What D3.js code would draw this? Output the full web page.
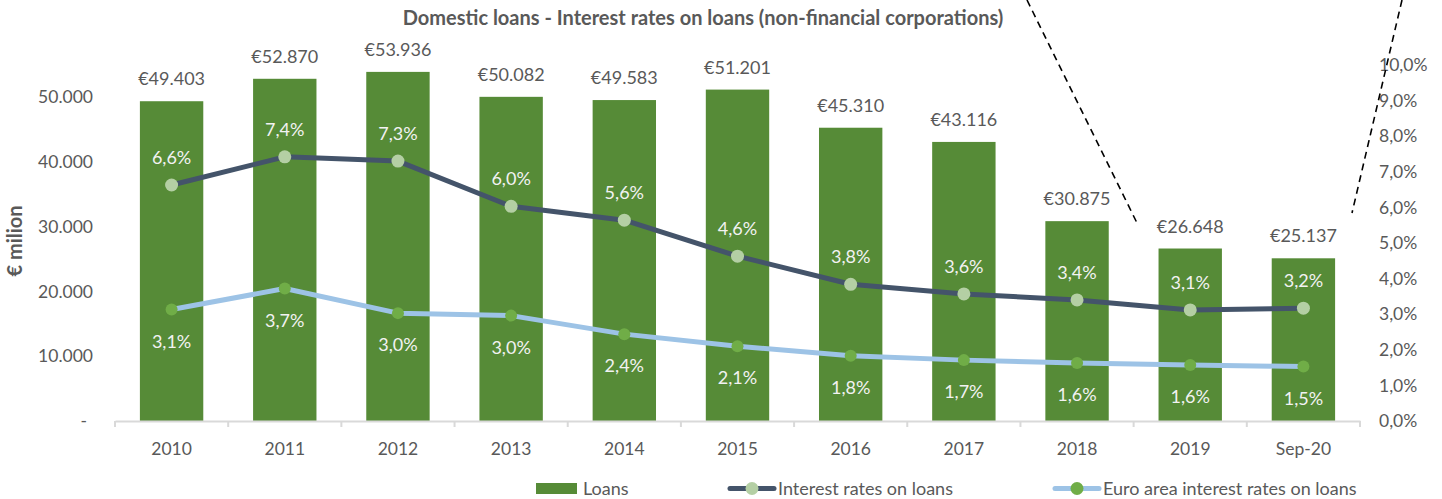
<!DOCTYPE html>
<html lang="en">
  <head>
    <meta charset="utf-8"/>
    <style>
      body {
        margin: 0;
        background: #fff;
        font-family: Lato, "Open Sans", sans-serif;
      }
      .tick text {
        fill: #595959;
        font-size: 17.5px;
        font-family: Lato, sans-serif;
      }
      .lbl {
        font-size: 18px;
      }
    </style>
    <script src="https://cdn.jsdelivr.net/npm/d3@7"></script>
  </head>
  <body>
    <script type="text/javascript">
      // chart data
      var categories = ["2010", "2011", "2012", "2013", "2014", "2015", "2016", "2017", "2018", "2019", "Sep-20"];
      var loans = [49403, 52870, 53936, 50082, 49583, 51201, 45310, 43116, 30875, 26648, 25137];
      var ratesDomestic = [6.63, 7.42, 7.30, 6.03, 5.64, 4.63, 3.84, 3.57, 3.40, 3.12, 3.17];
      var ratesEuro = [3.13, 3.72, 3.03, 2.96, 2.44, 2.10, 1.83, 1.71, 1.63, 1.57, 1.53];
      var leftTicks = [0, 10000, 20000, 30000, 40000, 50000];
      var rightTicks = [0, 1, 2, 3, 4, 5, 6, 7, 8, 9, 10];
      var seriesNames = ["Loans", "Interest rates on loans", "Euro area interest rates on loans"];

      var w = 1442;
      var h = 499;
      var green = "#568B37";
      var navy = "#44546A";
      var lightBlue = "#9DC3E6";
      var grey = "#595959";

      var pt = d3.formatLocale({decimal: ",", thousands: ".", grouping: [3], currency: ["€", ""]});
      var fmtK = pt.format(",.0f");
      var fmtP = pt.format(".1f");

      var svg = d3.select("body")
                  .append("svg")
                  .attr("width", w)
                  .attr("height", h);

      // scales
      var x = d3.scaleBand()
                .domain(categories)
                .range([115, 1360])
                .paddingInner(0.44)
                .paddingOuter(0.22);
      var yL = d3.scaleLinear().domain([0, 55000]).range([421, 65]);
      var yR = d3.scaleLinear().domain([0, 10]).range([421, 65]);
      var cx = function(i) { return x(categories[i]) + x.bandwidth() / 2; };

      // title
      svg.append("text")
         .attr("x", 703)
         .attr("y", 25)
         .attr("text-anchor", "middle")
         .attr("font-size", "20px")
         .attr("font-weight", "bold")
         .attr("fill", grey)
         .text("Domestic loans - Interest rates on loans (non-financial corporations)");

      // left axis
      var gl = svg.append("g")
                  .attr("transform", "translate(93,0)")
                  .call(d3.axisLeft(yL).tickValues(leftTicks).tickSize(0).tickPadding(0)
                          .tickFormat(function(d) { return d === 0 ? "-" : fmtK(d); }));
      gl.select(".domain").remove();
      gl.selectAll(".tick text").filter(function(d) { return d === 0; }).attr("dx", "-6");

      // right axis
      var gr = svg.append("g")
                  .attr("transform", "translate(1379,0)")
                  .call(d3.axisRight(yR).tickValues(rightTicks).tickSize(0).tickPadding(0)
                          .tickFormat(function(d) { return fmtP(d) + "%"; }));
      gr.select(".domain").remove();

      // y label
      svg.append("text")
         .attr("transform", "translate(22,241) rotate(-90)")
         .attr("text-anchor", "middle")
         .attr("font-size", "20px")
         .attr("font-weight", "bold")
         .attr("fill", grey)
         .text("€ milion");

      // bars
      svg.selectAll(".bar")
         .data(loans)
         .enter()
         .append("rect")
         .attr("class", "bar")
         .attr("x", function(d, i) { return x(categories[i]); })
         .attr("y", function(d) { return yL(d); })
         .attr("width", x.bandwidth())
         .attr("height", function(d) { return yL(0) - yL(d); })
         .attr("fill", green);

      svg.selectAll(".barlbl")
         .data(loans)
         .enter()
         .append("text")
         .attr("class", "lbl")
         .attr("x", function(d, i) { return cx(i); })
         .attr("y", function(d) { return yL(d) - 16; })
         .attr("text-anchor", "middle")
         .attr("fill", grey)
         .text(function(d) { return "€" + fmtK(d); });

      // x axis
      var gx = svg.append("g")
                  .attr("transform", "translate(0,421)")
                  .call(d3.axisBottom(x).tickSize(0).tickPadding(22));
      gx.select(".domain").attr("stroke", "#D9D9D9").attr("stroke-width", 2);
      var edges = categories.map(function(c) { return x(c) - (x.step() - x.bandwidth()) / 2; });
      edges.push(x.range()[1]);
      gx.selectAll(".edge")
        .data(edges)
        .enter()
        .append("line")
        .attr("x1", function(d) { return d; })
        .attr("x2", function(d) { return d; })
        .attr("y1", 0)
        .attr("y2", 6)
        .attr("stroke", "#D9D9D9")
        .attr("stroke-width", 2);

      // lines
      var line = d3.line()
                   .x(function(d, i) { return cx(i); })
                   .y(function(d) { return yR(d); });

      svg.append("path")
         .datum(ratesEuro)
         .attr("d", line)
         .attr("fill", "none")
         .attr("stroke", lightBlue)
         .attr("stroke-width", 5)
         .attr("stroke-linejoin", "round");
      svg.append("path")
         .datum(ratesDomestic)
         .attr("d", line)
         .attr("fill", "none")
         .attr("stroke", navy)
         .attr("stroke-width", 5)
         .attr("stroke-linejoin", "round");

      svg.selectAll(".mEuro")
         .data(ratesEuro)
         .enter()
         .append("circle")
         .attr("cx", function(d, i) { return cx(i); })
         .attr("cy", function(d) { return yR(d); })
         .attr("r", 6)
         .attr("fill", "#70AD47");
      svg.selectAll(".mDom")
         .data(ratesDomestic)
         .enter()
         .append("circle")
         .attr("cx", function(d, i) { return cx(i); })
         .attr("cy", function(d) { return yR(d); })
         .attr("r", 6.5)
         .attr("fill", "#B4CFA4");

      svg.selectAll(".lDom")
         .data(ratesDomestic)
         .enter()
         .append("text")
         .attr("class", "lbl")
         .attr("x", function(d, i) { return cx(i); })
         .attr("y", function(d) { return yR(d) - 21; })
         .attr("text-anchor", "middle")
         .attr("fill", "#F2F2F2")
         .text(function(d) { return fmtP(d) + "%"; });
      svg.selectAll(".lEuro")
         .data(ratesEuro)
         .enter()
         .append("text")
         .attr("class", "lbl")
         .attr("x", function(d, i) { return cx(i); })
         .attr("y", function(d) { return yR(d) + 38; })
         .attr("text-anchor", "middle")
         .attr("fill", "#F2F2F2")
         .text(function(d) { return fmtP(d) + "%"; });

      // dashed annotation strokes
      svg.append("line")
         .attr("x1", 1027).attr("y1", 0).attr("x2", 1138).attr("y2", 225)
         .attr("stroke", "#000").attr("stroke-width", 1.6).attr("stroke-dasharray", "7,5");
      svg.append("line")
         .attr("x1", 1402).attr("y1", 0).attr("x2", 1352).attr("y2", 213)
         .attr("stroke", "#000").attr("stroke-width", 1.6).attr("stroke-dasharray", "7,5");

      // legend
      var legX = [536, 778, 1103];
      var leg = svg.append("g");
      leg.append("rect")
         .attr("x", legX[0]).attr("y", 483).attr("width", 41).attr("height", 11)
         .attr("fill", green);
      [[navy, "#B4CFA4"], [lightBlue, "#70AD47"]].forEach(function(c, k) {
        var lx = legX[k + 1];
        leg.append("line")
           .attr("x1", lx - 48).attr("x2", lx - 4).attr("y1", 488.5).attr("y2", 488.5)
           .attr("stroke", c[0]).attr("stroke-width", 5).attr("stroke-linecap", "round");
        leg.append("circle")
           .attr("cx", lx - 26).attr("cy", 488.5).attr("r", 6.5).attr("fill", c[1]);
      });
      leg.selectAll(".legtxt")
         .data(seriesNames)
         .enter()
         .append("text")
         .attr("class", "lbl")
         .attr("x", function(d, i) { return i === 0 ? legX[0] + 47 : legX[i]; })
         .attr("y", 495)
         .attr("fill", grey)
         .text(function(d) { return d; });
    </script>
  </body>
</html>
